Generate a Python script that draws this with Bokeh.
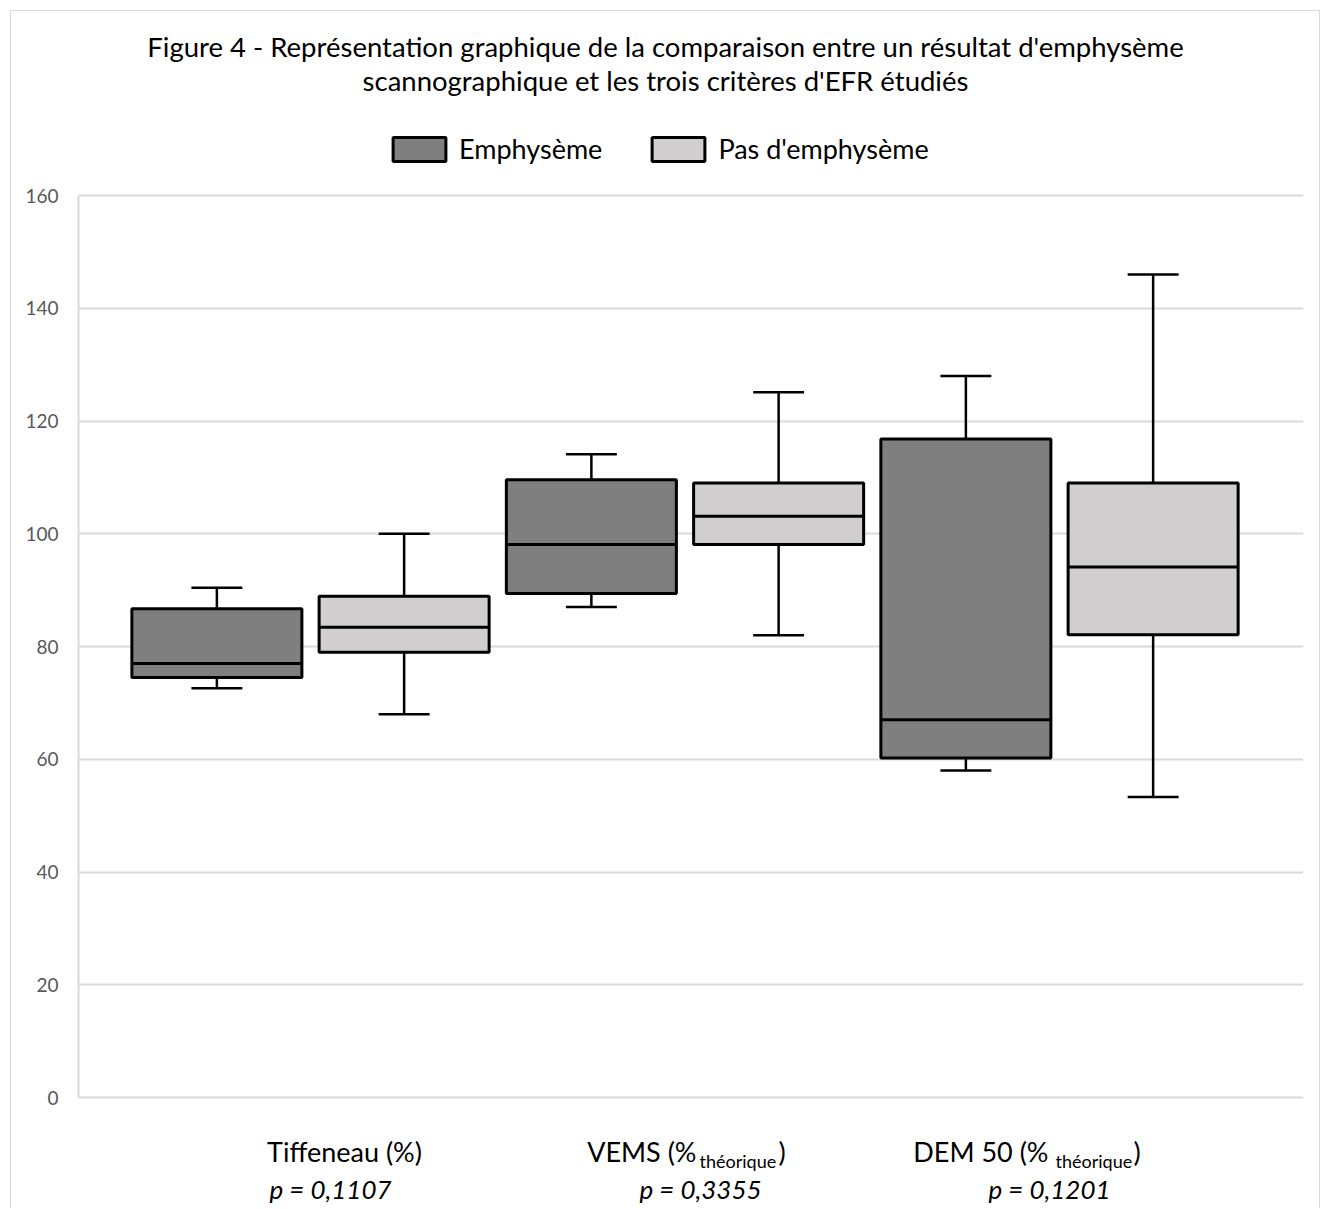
from bokeh.plotting import figure
from bokeh.models import Range1d, FixedTicker, Legend, LegendItem, ColumnDataSource
from bokeh.core.properties import value
from bokeh.embed import file_html
from bokeh.resources import INLINE

# ---------------- data ----------------
categories = ["Tiffeneau", "VEMS", "DEM 50"]
series = ["Emphysème", "Pas d'emphysème"]

emph_min = [72.6, 87.0, 58.0]
emph_q1 = [74.5, 89.4, 60.2]
emph_med = [77.0, 98.1, 67.0]
emph_q3 = [86.7, 109.6, 116.8]
emph_max = [90.4, 114.1, 128.0]

pas_min = [68.0, 82.0, 53.3]
pas_q1 = [79.0, 98.1, 82.1]
pas_med = [83.4, 103.1, 94.1]
pas_q3 = [88.9, 109.0, 109.0]
pas_max = [100.0, 125.1, 146.0]

y_ticks = [0, 20, 40, 60, 80, 100, 120, 140, 160]
p_values = ["p = 0,1107", "p = 0,3355", "p = 0,1201"]
title_lines = ["Figure 4 - Représentation graphique de la comparaison entre un résultat d'emphysème",
               "scannographique et les trois critères d'EFR étudiés"]

# ---------------- layout (page pixel coordinates) ----------------
ORIGIN = 11                       # canvas origin inside the bordered box
FRAME_LEFT_PX, FRAME_RIGHT_PX = 78, 1303
PAGE_BOTTOM = 1209
B_LEFT = FRAME_LEFT_PX - ORIGIN
B_RIGHT = 1321 - FRAME_RIGHT_PX
FRAME_W = FRAME_RIGHT_PX - FRAME_LEFT_PX
W = B_LEFT + FRAME_W + B_RIGHT
H = PAGE_BOTTOM - ORIGIN
PX_PER_CAT = 374.5
FIRST_CENTER = 232.0
x_start = -FIRST_CENTER / PX_PER_CAT
x_end = x_start + FRAME_W / PX_PER_CAT
PX_PER_UNIT = 5.6375
ZERO_PX = 1097
y_end = (ZERO_PX - ORIGIN) / PX_PER_UNIT
y_start = -(PAGE_BOTTOM - ZERO_PX) / PX_PER_UNIT


def xd(px):
    return x_start + (px - FRAME_LEFT_PX) / PX_PER_CAT


def yd(py):
    return (ZERO_PX - py) / PX_PER_UNIT


FONT = "Lato"
DARK = "#7f7f7f"
LIGHT = "#d0cece"
GRID = "#d9d9d9"
OFF = 0.25
BW = 0.454
CAP = 0.068

p = figure(width=W, height=H, output_backend="svg", toolbar_location=None,
           x_range=Range1d(x_start, x_end), y_range=Range1d(y_start, y_end),
           x_axis_location=None, min_border_left=B_LEFT, min_border_right=B_RIGHT,
           min_border_top=0, min_border_bottom=0)
p.outline_line_color = None
p.xgrid.visible = False
p.ygrid.ticker = FixedTicker(ticks=y_ticks)
p.ygrid.grid_line_color = GRID
p.ygrid.grid_line_width = 2
p.yaxis.ticker = FixedTicker(ticks=y_ticks)
p.yaxis.bounds = (0, 160)
p.yaxis.axis_line_color = GRID
p.yaxis.axis_line_width = 2
p.yaxis.major_tick_line_color = None
p.yaxis.minor_tick_line_color = None
p.yaxis.major_tick_out = 0
p.yaxis.major_label_standoff = 20
p.yaxis.major_label_text_font = FONT
p.yaxis.major_label_text_font_size = "19px"
p.yaxis.major_label_text_color = "#595959"
p.styles = {"border-left": "1px solid #d9d9d9", "border-top": "1px solid #d9d9d9",
            "border-right": "1px solid #d9d9d9", "margin-left": "10px", "margin-top": "10px"}

box_renderers = []
for k, (mn, q1, md, q3, mx, col) in enumerate([
        (emph_min, emph_q1, emph_med, emph_q3, emph_max, DARK),
        (pas_min, pas_q1, pas_med, pas_q3, pas_max, LIGHT)]):
    xs = [i + (-OFF if k == 0 else OFF) for i in range(len(categories))]
    src = ColumnDataSource(dict(x=xs, mn=mn, q1=q1, md=md, q3=q3, mx=mx,
                                xl=[x - BW / 2 for x in xs], xr=[x + BW / 2 for x in xs],
                                cl=[x - CAP for x in xs], cr=[x + CAP for x in xs]))
    p.segment(x0="x", x1="x", y0="q3", y1="mx", source=src, line_color="black", line_width=2.5)
    p.segment(x0="x", x1="x", y0="q1", y1="mn", source=src, line_color="black", line_width=2.5)
    p.segment(x0="cl", x1="cr", y0="mx", y1="mx", source=src, line_color="black", line_width=2.5)
    p.segment(x0="cl", x1="cr", y0="mn", y1="mn", source=src, line_color="black", line_width=2.5)
    r = p.vbar(x="x", width=BW, top="q3", bottom="q1", source=src, fill_color=col,
               line_color="black", line_width=3)
    p.segment(x0="xl", x1="xr", y0="md", y1="md", source=src, line_color="black", line_width=3)
    box_renderers.append(r)

legend = Legend(items=[LegendItem(label=series[0], renderers=[box_renderers[0]]),
                       LegendItem(label=series[1], renderers=[box_renderers[1]])],
                location=(386 - FRAME_LEFT_PX, PAGE_BOTTOM - 165), orientation="horizontal",
                glyph_width=66, glyph_height=30, label_height=30, label_standoff=7,
                spacing=43, padding=0, margin=0, border_line_color=None,
                background_fill_alpha=0, label_text_font=FONT, label_text_font_size="27px",
                label_text_color="#000000")
p.add_layout(legend)

# title
p.text(x=[xd(665), xd(665)], y=[yd(46), yd(80)], text=title_lines, text_align="center",
       text_baseline="middle", text_font=value(FONT), text_font_size="27.5px", text_color="#000000")

# category labels (with subscript)
lab_main_y = yd(1151)
lab_sub_y = yd(1160)
p_y = yd(1188)
p.text(x=[xd(344)], y=[lab_main_y], text=["Tiffeneau (%)"], text_align="center",
       text_baseline="middle", text_font=value(FONT), text_font_size="27px", text_color="#000000")
p.text(x=[xd(696), xd(1048)], y=[lab_main_y] * 2, text=["VEMS (%", "DEM 50 (%"], text_align="right",
       text_baseline="middle", text_font=value(FONT), text_font_size="27px", text_color="#000000")
p.text(x=[xd(699), xd(1055)], y=[lab_sub_y] * 2, text=["théorique", "théorique"], text_align="left",
       text_baseline="middle", text_font=value(FONT), text_font_size="18px", text_color="#000000")
p.text(x=[xd(778), xd(1133)], y=[lab_main_y] * 2, text=[")", ")"], text_align="left",
       text_baseline="middle", text_font=value(FONT), text_font_size="27px", text_color="#000000")
p.text(x=[xd(330), xd(700), xd(1049)], y=[p_y] * 3, text=p_values, text_align="center",
       text_baseline="middle", text_font=value(FONT), text_font_size="26px",
       text_font_style="italic", text_color="#000000")

open("out.html", "w").write(file_html(p, INLINE))
